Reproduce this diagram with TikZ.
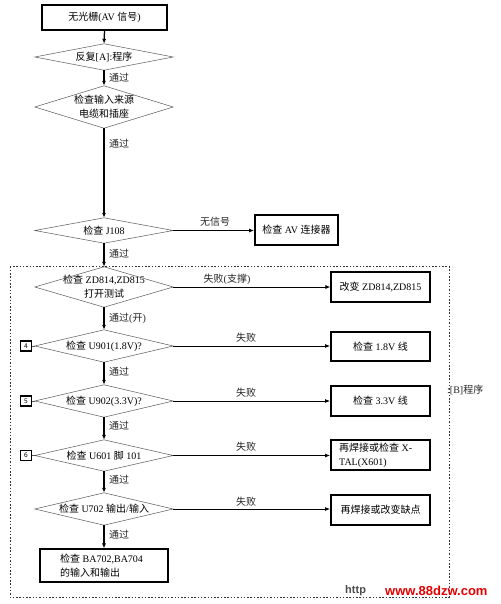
\documentclass[tikz,border=0pt]{standalone}
\usepackage{fontspec}
\setmainfont{Liberation Serif}
\newfontfamily\cjk{Noto Sans CJK SC}
\newfontfamily\wmfont{Liberation Sans}
\usetikzlibrary{arrows.meta}
\newcommand\zh[1]{{\cjk #1}}
\begin{document}
\begin{tikzpicture}[x=1pt,y=-1pt, font=\fontsize{10}{14}\selectfont,
  dia/.style={rectangle, minimum width=138pt, inner sep=0pt, align=center},
  thickbox/.style={draw, line width=1.8pt, inner sep=0pt, align=center},
  midbox/.style={draw, line width=1.1pt, inner sep=0pt, align=center},
  diaedge/.style={draw=black!65, line width=0.5pt},
  arr/.style={-{Latex[length=5pt,width=4pt]}, line width=0.9pt},
  varr/.style={-{Latex[length=5pt,width=4pt]}, line width=1.3pt},
  lbl/.style={inner sep=1pt, text=black!85},
  numbox/.style={draw, line width=1.1pt, minimum width=11pt, minimum height=10pt, inner sep=0pt, font=\sffamily\fontsize{7}{7}\selectfont}
]
\useasboundingbox (0,0) rectangle (500,604);
\fill[white] (0,0) rectangle (500,604);

% dotted frame
\draw[line width=0.8pt, dash pattern=on 1.5pt off 1.8pt, black!80] (10,266.5) rectangle (449,597);

% main column
\node[thickbox, minimum width=125pt, minimum height=25pt] (top) at (104.5,17.5) {\zh{无光栅}(AV \zh{信号})};
\node[dia, minimum height=26pt] (d1) at (104,57) {\zh{反复}[A]:\zh{程序}};
\node[dia, minimum height=42pt] (d2) at (104,107) {\zh{检查输入来源}\\\zh{电缆和插座}};
\node[dia, minimum height=25pt] (d3) at (104,230.5) {\zh{检查} J108};
\node[dia, minimum height=40pt] (d4) at (104,287) {\zh{检查} ZD814,ZD815\\\zh{打开测试}};
\node[dia, minimum height=32pt] (d5) at (104,346) {\zh{检查} U901(1.8V)?};
\node[dia, minimum height=32pt] (d6) at (104,401) {\zh{检查} U902(3.3V)?};
\node[dia, minimum height=31pt] (d7) at (104,455.5) {\zh{检查} U601 \zh{脚} 101};
\node[dia, minimum height=32pt] (d8) at (104,509) {\zh{检查} U702 \zh{输出}/\zh{输入}};
\node[midbox, minimum width=128pt, minimum height=33pt] (ba) at (104,565.5) {};
\node[align=left, anchor=west, inner sep=0pt] (batext) at (60,565.5) {\zh{检查} BA702,BA704\\\zh{的输入和输出}};

\foreach \n in {d1,d2,d3,d4,d5,d6,d7,d8}
  \draw[diaedge] (\n.west) -- (\n.north) -- (\n.east) -- (\n.south) -- cycle;

% right boxes
\node[thickbox, minimum width=83pt, minimum height=30pt] (av) at (296.5,230) {\zh{检查} AV \zh{连接器}};
\node[midbox, minimum width=99pt, minimum height=30pt] (bzd) at (380.5,287) {\zh{改变} ZD814,ZD815};
\node[thickbox, minimum width=99pt, minimum height=29pt] (b18) at (380.5,346.5) {\zh{检查} 1.8V \zh{线}};
\node[thickbox, minimum width=99pt, minimum height=30pt] (b33) at (380.5,401) {\zh{检查} 3.3V \zh{线}};
\node[thickbox, minimum width=99pt, minimum height=30pt] (bx) at (380.5,455) {};
\node[align=left, anchor=west, inner sep=0pt] (bxtext) at (339,455) {\zh{再焊接或检查} X-\\TAL(X601)};
\node[thickbox, minimum width=99pt, minimum height=30pt] (bq) at (380.5,510) {\zh{再焊接或改变缺点}};

% number boxes
\node[numbox] (n4) at (26,346) {4};
\node[numbox] (n5) at (26,401) {5};
\node[numbox] (n6) at (26,455.5) {6};
\draw[diaedge] (n4.east) -- (d5.west);
\draw[diaedge] (n5.east) -- (d6.west);
\draw[diaedge] (n6.east) -- (d7.west);

% vertical connectors
\draw[varr] (top.south) -- (d1.north);
\draw[varr] (d1.south) -- (d2.north);
\draw[varr] (d2.south) -- (d3.north);
\draw[varr] (d3.south) -- (d4.north);
\draw[varr] (d4.south) -- (d5.north);
\draw[varr] (d5.south) -- (d6.north);
\draw[varr] (d6.south) -- (d7.north);
\draw[varr] (d7.south) -- (d8.north);
\draw[varr] (d8.south) -- (ba.north);

% horizontal connectors
\draw[arr] (d3.east) -- (av.west |- d3.east);
\draw[arr] (d4.east) -- (bzd.west);
\draw[arr] (d5.east) -- (b18.west |- d5.east);
\draw[arr] (d6.east) -- (b33.west |- d6.east);
\draw[arr] (d7.east) -- (bx.west |- d7.east);
\draw[arr] (d8.east) -- (bq.west |- d8.east);

% labels
\node[lbl, anchor=west] (l1) at (108,78) {\zh{通过}};
\node[lbl, anchor=west] (l2) at (108,144) {\zh{通过}};
\node[lbl] (l3) at (215,222) {\zh{无信号}};
\node[lbl, anchor=west] (l4) at (108,254) {\zh{通过}};
\node[lbl] (l5) at (227,279) {\zh{失败}(\zh{支撑})};
\node[lbl, anchor=west] (l6) at (108,318) {\zh{通过}(\zh{开})};
\node[lbl] (l7) at (246,338) {\zh{失败}};
\node[lbl, anchor=west] (l8) at (108,372) {\zh{通过}};
\node[lbl] (l9) at (246,393) {\zh{失败}};
\node[lbl, anchor=west] (l10) at (108,426) {\zh{通过}};
\node[lbl] (l11) at (246,447) {\zh{失败}};
\node[lbl, anchor=west] (l12) at (108,480) {\zh{通过}};
\node[lbl] (l13) at (246,502) {\zh{失败}};
\node[lbl, anchor=west] (l14) at (108,535) {\zh{通过}};
\node[lbl, anchor=west] (lb) at (446,390) {:[B]\zh{程序}};

% watermark
\node[anchor=west, inner sep=0pt, text=black!70, font=\wmfont\bfseries\fontsize{11}{11}\selectfont] (wm1) at (345,591) {http};
\node[anchor=west, inner sep=0pt, text=red!90!black, font=\wmfont\bfseries\fontsize{13}{13}\selectfont] (wm2) at (385,591) {www.88dzw.com};
\end{tikzpicture}
\end{document}
